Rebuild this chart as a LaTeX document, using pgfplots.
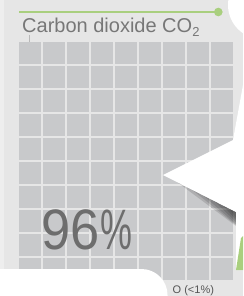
\documentclass[border=0pt]{standalone}
\usepackage{pgfplots}
\pgfplotsset{compat=1.18}
\usepackage{fontspec}
\setmainfont{Liberation Sans}
\definecolor{bg}{HTML}{E6E6E6}
\definecolor{strip}{HTML}{EEEEEE}
\definecolor{sq}{HTML}{C8C9CB}
\definecolor{titlegray}{HTML}{777777}
\definecolor{biggray}{HTML}{6D6D6D}
\definecolor{accent}{HTML}{A9CF7E}
\definecolor{smallgray}{HTML}{555555}
\definecolor{tickgray}{HTML}{B8B8B8}
\begin{document}
\begin{tikzpicture}
\useasboundingbox (0,0) rectangle (243pt,-296pt);
\clip (0,0) rectangle (243pt,-296pt);
\begin{scope}[x=1pt,y=-1pt]
  \fill[bg] (0,0) rectangle (243,296);
  \fill[strip] (0,0) rectangle (4,296);
  \draw[accent, line width=1.5pt] (19,12) -- (218,12);
  \fill[accent] (218.3,12) circle (4.3);
  \fill[white] (262,5) circle (34);
  \node[anchor=base west, inner sep=0pt, text=titlegray, font=\fontsize{20}{24}\selectfont]
    at (22,32.3) {Carbon dioxide CO\raisebox{-4pt}{\fontsize{13}{13}\selectfont 2}};
  \draw[tickgray, line width=0.9pt] (29.7,35) -- (29.7,42.3);
\end{scope}
\begin{axis}[at={(0pt,0pt)}, anchor=north west, width=243pt, height=296pt,
  scale only axis, hide axis, y dir=reverse,
  xmin=-0.22407, xmax=9.85892, ymin=-1.21667, ymax=11.11667]
\addplot[only marks, mark=square*, mark size=10.5pt, color=sq, line width=0pt,
  mark options={solid, draw=sq, fill=sq, line width=0pt}] coordinates {
(1,1) (2,1) (3,1) (4,1) (5,1) (6,1) (7,1) (8,1) (9,1) (10,1)
(1,2) (2,2) (3,2) (4,2) (5,2) (6,2) (7,2) (8,2) (9,2) (10,2)
(1,3) (2,3) (3,3) (4,3) (5,3) (6,3) (7,3) (8,3) (9,3) (10,3)
(1,4) (2,4) (3,4) (4,4) (5,4) (6,4) (7,4) (8,4) (9,4) (10,4)
(1,5) (2,5) (3,5) (4,5) (5,5) (6,5) (7,5) (8,5) (9,5) (10,5)
(1,6) (2,6) (3,6) (4,6) (5,6) (6,6) (7,6) (8,6) (9,6) (10,6)
(1,7) (2,7) (3,7) (4,7) (5,7) (6,7) (7,7) (8,7) (9,7) (10,7)
(1,8) (2,8) (3,8) (4,8) (5,8) (6,8) (7,8) (8,8) (9,8) (10,8)
(1,9) (2,9) (3,9) (4,9) (5,9) (6,9) (7,9) (8,9) (9,9) (10,9)
(1,10) (2,10) (3,10) (4,10) (5,10) (6,10) (7,10) (8,10) (9,10) (10,10)
};
\end{axis}
\begin{scope}[x=1pt,y=-1pt]
  \node[anchor=base west, inner sep=0pt, text=biggray, font=\fontsize{57}{60}\selectfont]
    at (41.5,249.5) {\scalebox{0.92}[1]{96}\scalebox{0.63}[1]{\%}};
  % shadow under the folded corner (stacked translucent wedges, darker to the right)
  \fill[black, opacity=0.13] (177.6,182.4) -- (236,212) -- (236,226) -- cycle;
  \fill[black, opacity=0.13] (192.2,189.8) -- (236,212) -- (236,225) -- cycle;
  \fill[black, opacity=0.13] (203.2,195.4) -- (236,212) -- (236,224) -- cycle;
  \fill[black, opacity=0.13] (214.1,200.9) -- (236,212) -- (236,222) -- cycle;
  \fill[black, opacity=0.13] (222.9,205.3) -- (236,212) -- (236,220) -- cycle;
  \fill[black, opacity=0.10] (229,208.4) -- (236,212) -- (236,218) -- cycle;
  % white folded corner
  \fill[white] (243,85) -- (233,140) -- (163,175) -- (236,212) -- (236,270) -- (243,270) -- cycle;
  \fill[accent] (241,238) -- (243,236) -- (243,270) -- (236,270) -- cycle;
  % white card bottom left
  \fill[white, rounded corners=26pt] (-40,269) -- (167.5,269) -- (167.5,340) -- (-40,340) -- cycle;
  \node[anchor=base west, inner sep=0pt, text=smallgray, font=\fontsize{11}{13}\selectfont]
    at (172.5,293.5) {O (<1\%)};
\end{scope}
\end{tikzpicture}
\end{document}
